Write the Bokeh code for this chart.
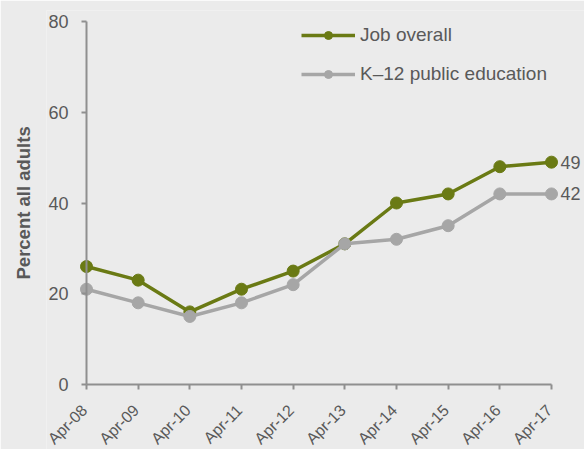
import math
from bokeh.plotting import figure
from bokeh.models import (Range1d, FixedTicker, Legend, LegendItem, LabelSet,
                          ColumnDataSource, LinearAxis, Title)
from bokeh.core.properties import value
from bokeh.embed import file_html
from bokeh.resources import INLINE

# ---- data ----
periods = ["Apr-08", "Apr-09", "Apr-10", "Apr-11", "Apr-12",
           "Apr-13", "Apr-14", "Apr-15", "Apr-16", "Apr-17"]
job_overall = [26, 23, 16, 21, 25, 31, 40, 42, 48, 49]
k12_public_education = [21, 18, 15, 18, 22, 31, 32, 35, 42, 42]
series_names = ["Job overall", "K\u201312 public education"]
y_ticks = [0, 20, 40, 60, 80]
y_title = "Percent all adults"

idx = list(range(len(periods)))
BG = "#ebebeb"
GREEN = "#6a7a14"
GRAY = "#a6a6a6"
TXT = "#595959"
AX = "#8f8f8f"
FONT = "Liberation Sans"

# layout (pixels)
W, H = 584, 449
FRAME_T, Y80, Y0 = 10, 21, 384          # frame top, row of top tick, row of y=0
FRAME_L, X0, XN, FRAME_R = 46, 86, 551, 584
py = (Y0 - Y80) / (y_ticks[-1] - y_ticks[0])
px = (XN - X0) / (idx[-1] - idx[0])
y_hi = y_ticks[-1] + (Y80 - FRAME_T) / py
y_lo = y_ticks[0] - (H - Y0) / py
x_lo = idx[0] - (X0 - FRAME_L) / px
x_hi = idx[-1] + (FRAME_R - XN) / px

p = figure(width=W, height=H, output_backend="svg", toolbar_location=None,
           x_axis_location=None,
           x_range=Range1d(x_lo, x_hi), y_range=Range1d(y_lo, y_hi),
           background_fill_color=BG, border_fill_color=BG, outline_line_color=None,
           min_border_left=FRAME_L, min_border_right=W - FRAME_R,
           min_border_top=FRAME_T, min_border_bottom=0)
p.grid.visible = False

# x axis: line + ticks at y = 0; period labels drawn as rotated text below
xa = LinearAxis(fixed_location=y_ticks[0], ticker=FixedTicker(ticks=idx),
                bounds=(idx[0], idx[-1]),
                major_label_overrides={i: "" for i in idx},
                major_label_standoff=0,
                minor_tick_line_color=None, major_tick_in=5, major_tick_out=0,
                axis_line_color=AX, axis_line_width=2,
                major_tick_line_color=AX, major_tick_line_width=2)
p.add_layout(xa, "above")

xlab_src = ColumnDataSource(dict(x=idx, y=[y_ticks[0]] * len(idx), t=periods))
p.add_layout(LabelSet(x="x", y="y", text="t", source=xlab_src,
                      angle=math.pi / 4, x_offset=-2, y_offset=-23,
                      text_align="right", text_baseline="middle",
                      text_font=value(FONT), text_font_size="16px", text_color=TXT))

# y axis: tick labels (no line); labels pulled right to sit by the axis line
ya = p.yaxis[0]
ya.ticker = FixedTicker(ticks=y_ticks)
ya.bounds = (y_ticks[0], y_ticks[-1])
ya.major_label_text_font = FONT
ya.major_label_text_font_size = "18px"
ya.major_label_text_color = TXT
ya.major_label_standoff = -(X0 - 18 - FRAME_L)
ya.minor_tick_line_color = None
ya.major_tick_line_color = None
ya.major_tick_in = 0
ya.major_tick_out = 0
ya.axis_line_color = None

# y axis: line + ticks at the first period (no labels)
ya2 = LinearAxis(fixed_location=idx[0], ticker=FixedTicker(ticks=y_ticks),
                 bounds=(y_ticks[0], y_ticks[-1]),
                 major_label_overrides={t: "" for t in y_ticks},
                 major_label_standoff=0,
                 minor_tick_line_color=None, major_tick_in=0, major_tick_out=5,
                 axis_line_color=AX, axis_line_width=2,
                 major_tick_line_color=AX, major_tick_line_width=2)
p.add_layout(ya2, "left")

# y axis title
p.add_layout(Title(text=y_title, align="left", offset=H - 279, standoff=20,
                   vertical_align="top",
                   text_font=FONT, text_font_size="18.5px", text_font_style="bold",
                   text_color=TXT), "left")

# series
items = []
for name, vals, col in [(series_names[0], job_overall, GREEN),
                        (series_names[1], k12_public_education, GRAY)]:
    src = ColumnDataSource(dict(x=idx, y=vals))
    ln = p.line("x", "y", source=src, line_color=col, line_width=3.5)
    sc = p.scatter("x", "y", source=src, size=12, fill_color=col, line_color=col)
    items.append(LegendItem(label=name, renderers=[ln, sc]))

# end labels
end_src = ColumnDataSource(dict(x=[idx[-1], idx[-1]],
                                y=[job_overall[-1], k12_public_education[-1]],
                                t=[str(job_overall[-1]), str(k12_public_education[-1])]))
p.add_layout(LabelSet(x="x", y="y", text="t", source=end_src, x_offset=9,
                      text_baseline="middle", text_align="left",
                      text_font=value(FONT), text_font_size="18px", text_color=TXT))

legend = Legend(items=items, location=(301 - FRAME_L, 364), padding=0, margin=0, spacing=17,
                glyph_height=20, glyph_width=54, label_standoff=5,
                border_line_color=None, background_fill_alpha=0,
                label_text_font=FONT, label_text_font_size="19px",
                label_text_color=TXT)
p.add_layout(legend, "center")

open("out.html", "w").write(file_html(p, INLINE))
